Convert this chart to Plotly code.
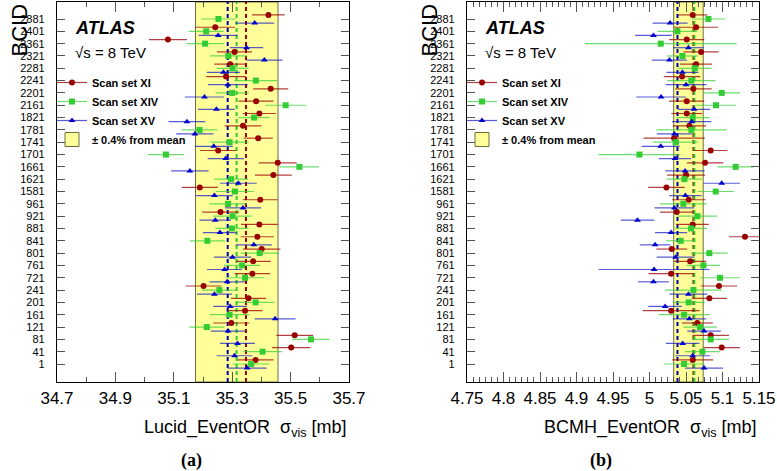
import numpy as np
import plotly.graph_objects as go

W, H = 777, 471

# ---------------- data ----------------
BCID = ["1", "41", "81", "121", "161", "201", "241", "721", "761", "801", "841", "881",
        "921", "961", "1581", "1621", "1661", "1701", "1741", "1781", "1821", "2161",
        "2201", "2241", "2281", "2321", "2361", "2401", "2881"]

# Panel (a): Lucid_EventOR sigma_vis [mb]
lucid_xi = [35.380, 35.502, 35.514, 35.297, 35.344, 35.356, 35.202, 35.369, 35.372, 35.401,
            35.386, 35.393, 35.260, 35.396, 35.189, 35.441, 35.456, 35.252, 35.389, 35.337,
            35.393, 35.382, 35.432, 35.279, 35.293, 35.308, 35.080, 35.242, 35.424]
lucid_xi_err = [0.062, 0.065, 0.063, 0.062, 0.060, 0.060, 0.061, 0.061, 0.060, 0.064,
                0.057, 0.063, 0.063, 0.060, 0.062, 0.063, 0.065, 0.062, 0.050, 0.063,
                0.057, 0.060, 0.060, 0.068, 0.055, 0.060, 0.065, 0.068, 0.056]
lucid_xiv = [35.365, 35.404, 35.570, 35.213, 35.291, 35.380, 35.256, 35.344, 35.334, 35.394,
             35.215, 35.299, 35.301, 35.286, 35.309, 35.296, 35.530, 35.073, 35.291, 35.188,
             35.375, 35.483, 35.300, 35.381, 35.301, 35.287, 35.207, 35.211, 35.253]
lucid_xiv_err = [0.063, 0.066, 0.064, 0.060, 0.068, 0.064, 0.060, 0.066, 0.062, 0.066,
                 0.060, 0.057, 0.066, 0.064, 0.066, 0.058, 0.067, 0.062, 0.065, 0.061,
                 0.054, 0.070, 0.057, 0.073, 0.055, 0.063, 0.064, 0.060, 0.060]
lucid_xv = [35.351, 35.308, 35.318, 35.286, 35.447, 35.293, 35.239, 35.283, 35.274, 35.301,
            35.374, 35.258, 35.242, 35.337, 35.239, 35.321, 35.155, 35.278, 35.237, 35.172,
            35.145, 35.246, 35.205, 35.285, 35.270, 35.410, 35.349, 35.252, 35.377]
lucid_xv_err = [0.067, 0.061, 0.060, 0.059, 0.070, 0.058, 0.060, 0.061, 0.060, 0.064,
                0.062, 0.058, 0.054, 0.062, 0.063, 0.063, 0.064, 0.062, 0.065, 0.064,
                0.063, 0.063, 0.067, 0.068, 0.057, 0.062, 0.057, 0.067, 0.067]

# Panel (b): BCMH_EventOR sigma_vis [mb]
bcmh_xi = [5.0592, 5.0989, 5.0838, 5.0656, 5.0296, 5.0820, 5.0952, 5.0296, 5.0556, 5.0305,
           5.1308, 5.0592, 5.0373, 5.0537, 5.0232, 5.0501, 5.0761, 5.0838, 5.0337, 5.0547,
           5.0510, 5.0510, 5.0601, 5.0446, 5.0638, 5.0706, 5.0510, 5.0638, 5.0592]
bcmh_xi_err = [0.028, 0.025, 0.025, 0.021, 0.039, 0.024, 0.025, 0.031, 0.022, 0.021,
               0.022, 0.022, 0.023, 0.023, 0.025, 0.026, 0.025, 0.023, 0.042, 0.023,
               0.021, 0.024, 0.025, 0.025, 0.022, 0.024, 0.024, 0.030, 0.020]
bcmh_xiv = [5.0474, 5.0724, 5.0838, 5.0692, 5.0474, 5.0537, 5.0601, 5.0966, 5.0738, 5.0820,
            5.0428, 5.0569, 5.0656, 5.0464, 5.0907, 5.0478, 5.1180, 4.9862, 5.0359, 5.0574,
            5.0592, 5.0911, 5.0989, 5.0574, 5.0620, 5.0451, 5.0154, 5.0382, 5.0807]
bcmh_xiv_err = [0.028, 0.024, 0.025, 0.023, 0.035, 0.022, 0.039, 0.027, 0.023, 0.025,
                0.020, 0.022, 0.027, 0.032, 0.025, 0.024, 0.025, 0.056, 0.031, 0.048,
                0.023, 0.027, 0.025, 0.033, 0.023, 0.021, 0.104, 0.027, 0.023]
bcmh_xv = [5.0747, 5.0592, 5.0455, 5.0747, 5.0547, 5.0214, 5.0533, 5.0054, 5.0063, 5.0359,
           5.0077, 5.0296, 4.9835, 5.0341, 5.0492, 5.0989, 5.0487, 5.0350, 5.0154, 5.0341,
           5.0578, 5.0610, 5.0159, 5.0501, 5.0451, 5.0273, 5.0533, 5.0054, 5.0282]
bcmh_xv_err = [0.026, 0.024, 0.023, 0.023, 0.023, 0.023, 0.026, 0.021, 0.076, 0.026,
               0.021, 0.022, 0.023, 0.027, 0.022, 0.025, 0.027, 0.022, 0.026, 0.024,
               0.027, 0.022, 0.034, 0.028, 0.022, 0.024, 0.021, 0.025, 0.024]

SERIES = ["Scan set XI", "Scan set XIV", "Scan set XV"]
BAND_LABEL = "± 0.4% from mean"
BAND_FRAC = 0.004

XTICKS_A = [34.7, 34.9, 35.1, 35.3, 35.5, 35.7]
XTICKTEXT_A = ["34.7", "34.9", "35.1", "35.3", "35.5", "35.7"]
XTICKS_B = [4.75, 4.8, 4.85, 4.9, 4.95, 5.0, 5.05, 5.1, 5.15]
XTICKTEXT_B = ["4.75", "4.8", "4.85", "4.9", "4.95", "5", "5.05", "5.1", "5.15"]

# ---------------- style ----------------
MCOL = ["#990000", "#33cc33", "#0000cc"]
ECOL = ["rgba(153,0,0,0.75)", "rgba(60,210,60,0.75)", "rgba(20,20,200,0.7)"]
SYM = ["circle", "square", "triangle-up"]
MSIZE = [6, 6, 6]
OFFS = [0.33, 0.0, -0.33]
FONT = "Liberation Sans, Arial, sans-serif"

# pixel layout
A_L, A_R = 57, 349
B_L, B_R = 467, 759
P_T, P_B = 2, 382


def px(x):
    return x / W


def py(y):
    return 1 - y / H


fig = go.Figure()
idx = np.arange(len(BCID))

panels = [
    ("x", "y", [lucid_xi, lucid_xiv, lucid_xv], [lucid_xi_err, lucid_xiv_err, lucid_xv_err]),
    ("x2", "y2", [bcmh_xi, bcmh_xiv, bcmh_xv], [bcmh_xi_err, bcmh_xiv_err, bcmh_xv_err]),
]

shapes = []
for xa, ya, vals, errs in panels:
    allv = np.concatenate([np.asarray(v) for v in vals])
    mean = allv.mean()
    # yellow band
    shapes.append(dict(type="rect", xref=xa, yref=f"{ya} domain", x0=mean * (1 - BAND_FRAC),
                       x1=mean * (1 + BAND_FRAC), y0=0, y1=1, fillcolor="#ffff99",
                       line=dict(color="#6e6e40", width=1), layer="below"))
    for k in range(3):
        m = float(np.mean(vals[k]))
        shapes.append(dict(type="line", xref=xa, yref=f"{ya} domain", x0=m, x1=m, y0=0, y1=1,
                           line=dict(color=MCOL[k] if k != 2 else "#0000aa", width=2,
                                     dash="4px,3px"), layer="below"))
    for k in range(3):
        fig.add_trace(go.Scatter(
            x=vals[k], y=idx + OFFS[k], xaxis=xa, yaxis=ya, mode="markers",
            marker=dict(symbol=SYM[k], size=MSIZE[k], color=MCOL[k], line=dict(width=0)),
            error_x=dict(type="data", array=errs[k], width=0, thickness=1.2, color=ECOL[k]),
            showlegend=False, hoverinfo="skip"))

# legends (entries only)
for li, lname in enumerate(["legend", "legend2"]):
    xa = "x" if li == 0 else "x2"
    ya = "y" if li == 0 else "y2"
    for k in range(3):
        fig.add_trace(go.Scatter(
            x=[None], y=[None], xaxis=xa, yaxis=ya, mode="lines+markers", name=SERIES[k],
            line=dict(color=ECOL[k], width=1.2),
            marker=dict(symbol=SYM[k], size=MSIZE[k], color=MCOL[k]),
            legend=lname, showlegend=True))
    fig.add_trace(go.Scatter(
        x=[None], y=[None], xaxis=xa, yaxis=ya, mode="markers", name=BAND_LABEL,
        marker=dict(symbol="square", size=14, color="#ffff99",
                    line=dict(color="#6e6e40", width=1)),
        legend=lname, showlegend=True))

axis_common = dict(showline=True, linecolor="black", linewidth=1.2, mirror="ticks",
                   ticks="inside", tickcolor="#555555", showgrid=False, zeroline=False,
                   automargin=False,
                   tickfont=dict(family=FONT, size=17, color="black"))

yrange = [-1.46, 29.38]
ycommon = dict(showline=True, linecolor="black", linewidth=1.2, mirror="ticks",
               ticks="inside", ticklen=8, tickcolor="#555555", showgrid=False, zeroline=False,
               automargin=False,
               tickmode="array", tickvals=list(idx), ticktext=BCID, range=yrange,
               tickfont=dict(family=FONT, size=11, color="black"), ticklabelstandoff=9,
               domain=[py(P_B), py(P_T)])

fig.update_layout(
    width=W, height=H, margin=dict(l=0, r=0, t=0, b=0, autoexpand=False),
    paper_bgcolor="white", plot_bgcolor="white",
    xaxis=dict(axis_common, domain=[px(A_L), px(A_R)], range=[34.7, 35.7], anchor="y",
               tickmode="array", tickvals=XTICKS_A, ticktext=XTICKTEXT_A, ticklen=10,
               minor=dict(tickmode="linear", tick0=34.7, dtick=0.1, ticks="inside",
                          ticklen=5, tickcolor="#555555")),
    xaxis2=dict(axis_common, domain=[px(B_L), px(B_R)], range=[4.75, 5.15], anchor="y2",
                tickmode="array", tickvals=XTICKS_B, ticktext=XTICKTEXT_B, ticklen=10,
                minor=dict(tickmode="linear", tick0=4.75, dtick=0.05 / 6, ticks="inside",
                           ticklen=5, tickcolor="#555555")),
    yaxis=dict(ycommon, anchor="x"),
    yaxis2=dict(ycommon, anchor="x2"),
    shapes=shapes,
    legend=dict(x=px(52), y=py(68), xanchor="left", yanchor="top", bgcolor="rgba(0,0,0,0)",
                font=dict(family=FONT, size=11, color="black", weight="bold"),
                tracegroupgap=0, itemwidth=30),
    legend2=dict(x=px(462), y=py(68), xanchor="left", yanchor="top", bgcolor="rgba(0,0,0,0)",
                 font=dict(family=FONT, size=11, color="black", weight="bold"),
                 tracegroupgap=0, itemwidth=30),
)

ann = []
for off, title, lab, labx in [(0, "Lucid_EventOR  σ<sub>vis</sub> [mb]", "(a)", 191),
                              (410, "BCMH_EventOR  σ<sub>vis</sub> [mb]", "(b)", 601)]:
    ann.append(dict(x=px(73 + off), y=py(28), xref="paper", yref="paper", xanchor="left",
                    yanchor="middle", showarrow=False, text="<b><i>ATLAS</i></b>",
                    font=dict(family=FONT, size=18, color="black")))
    ann.append(dict(x=px(73 + off), y=py(53), xref="paper", yref="paper", xanchor="left",
                    yanchor="middle", showarrow=False, text="√s = 8 TeV",
                    font=dict(family=FONT, size=15, color="black")))
    ann.append(dict(x=px(A_R + off), y=py(428), xref="paper", yref="paper", xanchor="right",
                    yanchor="middle", showarrow=False, text=title,
                    font=dict(family=FONT, size=18, color="black")))
    ann.append(dict(x=px(19 + off), y=py(2), xref="paper", yref="paper", xanchor="center",
                    yanchor="top", showarrow=False, text="BCID", textangle=-90,
                    font=dict(family=FONT, size=22, color="black")))
    ann.append(dict(x=px(labx), y=py(460), xref="paper", yref="paper", xanchor="center",
                    yanchor="middle", showarrow=False, text="<b>" + lab + "</b>",
                    font=dict(family="Liberation Serif, Times New Roman, serif", size=18,
                              color="black")))
fig.update_layout(annotations=ann)

fig.write_html("out.html", config={"displayModeBar": False},
               post_script="document.body.style.margin='0';document.body.style.overflow='hidden';")
